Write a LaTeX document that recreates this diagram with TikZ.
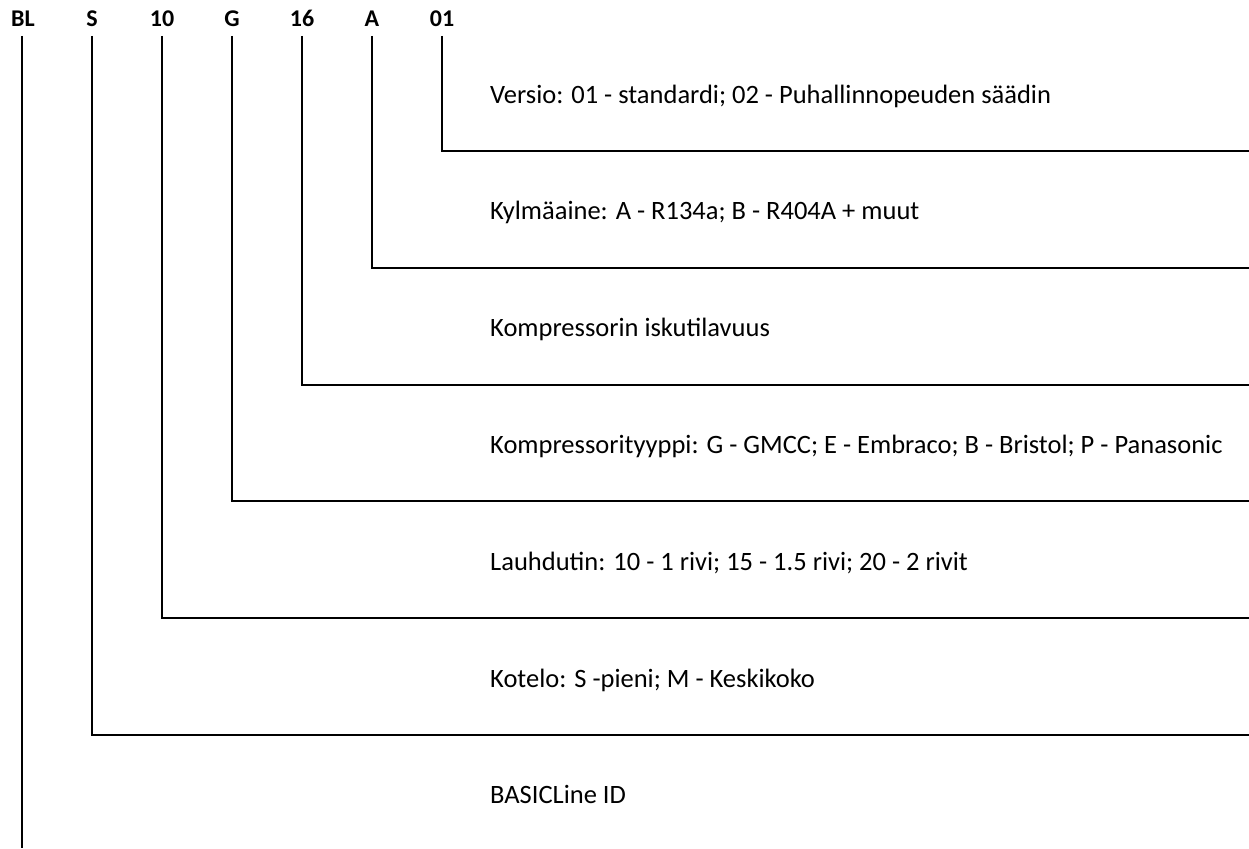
\documentclass[tikz,border=0pt]{standalone}
\usepackage{fontspec}
\setmainfont{Carlito}
\begin{document}
\begin{tikzpicture}[x=1pt,y=-1pt,
  code/.style={font=\fontsize{24}{28}\selectfont\bfseries, anchor=base},
  desc/.style={font=\fontsize{26.5}{31}\selectfont, anchor=base west, inner sep=0pt},
  conn/.style={line width=2pt}]
\useasboundingbox (0,0) rectangle (1249,848);
\node[code] (bl) at (23,27) {BL};
\node[code] (s) at (92,27) {S};
\node[code] (c10) at (162,27) {10};
\node[code] (g) at (232,27) {G};
\node[code] (c16) at (302,27) {16};
\node[code] (a) at (372,27) {A};
\node[code] (c01) at (442,27) {01};
\coordinate (e01) at (1249,151);
\coordinate (eA) at (1249,267.8);
\coordinate (e16) at (1249,384.6);
\coordinate (eG) at (1249,501.4);
\coordinate (e10) at (1249,618.2);
\coordinate (eS) at (1249,735);
\coordinate (eBL) at (22,848);
\draw[conn] (442,36) |- (e01);
\draw[conn] (372,36) |- (eA);
\draw[conn] (302,36) |- (e16);
\draw[conn] (232,36) |- (eG);
\draw[conn] (162,36) |- (e10);
\draw[conn] (92,36) |- (eS);
\draw[conn] (22,36) -- (eBL);
\node[desc] (d01) at (490,103) {Versio: 01 - standardi; 02 - Puhallinnopeuden säädin};
\node[desc] (dA) at (490,219.8) {Kylmäaine: A - R134a; B - R404A + muut};
\node[desc] (d16) at (490,336.6) {Kompressorin iskutilavuus};
\node[desc] (dG) at (490,453.4) {Kompressorityyppi: G - GMCC; E - Embraco; B - Bristol; P - Panasonic};
\node[desc] (d10) at (490,570.2) {Lauhdutin: 10 - 1 rivi; 15 - 1.5 rivi; 20 - 2 rivit};
\node[desc] (dS) at (490,687) {Kotelo: S -pieni; M - Keskikoko};
\node[desc] (dBL) at (490,803.8) {BASICLine ID};
\end{tikzpicture}
\end{document}
